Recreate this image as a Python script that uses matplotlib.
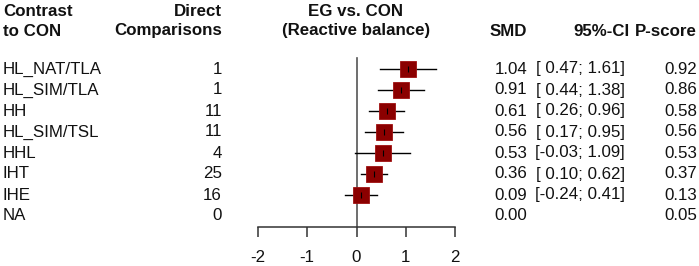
import matplotlib
matplotlib.use("Agg")
import matplotlib.pyplot as plt
import matplotlib.transforms as mtransforms

plt.rcParams['font.family'] = ['Liberation Sans', 'DejaVu Sans']

# data
contrasts = ["HL_NAT/TLA", "HL_SIM/TLA", "HH", "HL_SIM/TSL", "HHL", "IHT", "IHE", "NA"]
n_direct = [1, 1, 11, 11, 4, 25, 16, 0]
smd = [1.04, 0.91, 0.61, 0.56, 0.53, 0.36, 0.09, 0.00]
ci_low = [0.47, 0.44, 0.26, 0.17, -0.03, 0.10, -0.24, None]
ci_high = [1.61, 1.38, 0.96, 0.95, 1.09, 0.62, 0.41, None]
pscore = [0.92, 0.86, 0.58, 0.56, 0.53, 0.37, 0.13, 0.05]
xticks = [-2, -1, 0, 1, 2]

W, H = 699, 266
fig = plt.figure(figsize=(W / 100, H / 100), dpi=100)

# forest axes: x from -2 (px 258) to 2 (px 455), bottom spine at px 227
ax = fig.add_axes([258 / W, (H - 227) / H, 197 / W, 227 / H])
row0, step = 69, 21
ax.set_xlim(-2, 2)
ax.set_ylim((227 - row0) / step, -row0 / step)

fs = 12.2
col = "#111111"

# reference line at zero
ax.plot([0, 0], [-0.52, (227 - row0) / step], color="#555555", lw=1.2, clip_on=False)

for i, m in enumerate(smd):
    lo, hi = ci_low[i], ci_high[i]
    if lo is None:
        continue
    ax.plot([lo, hi], [i, i], color="black", lw=1.0, zorder=2)
    ax.plot(m, i, marker="s", ms=11.2, color="#8b0000", mec="#a01010", mew=0.6, zorder=3)
    ax.plot(m, i, marker="|", ms=5, color="black", mew=0.8, zorder=4)

for s in ["top", "left", "right"]:
    ax.spines[s].set_visible(False)
ax.spines["bottom"].set_bounds(-2, 2)
ax.spines["bottom"].set_color("#333333")
ax.spines["bottom"].set_linewidth(1.1)
ax.set_yticks([])
ax.set_xticks(xticks)
ax.set_xticklabels([str(t) for t in xticks])
ax.tick_params(axis="x", length=7.5, width=1.1, color="#333333", pad=9,
               labelsize=fs, labelcolor=col)
ax.patch.set_visible(False)

# text columns: x in figure pixels, y in row units
tr = mtransforms.blended_transform_factory(fig.transFigure, ax.transData)

def put(xpx, y, s, ha, bold=False):
    ax.text(xpx / W, y, s, transform=tr, ha=ha, va="center", fontsize=fs,
            color=col, fontweight="bold" if bold else "normal", clip_on=False)

h1 = (11 - row0) / step
h2 = (31 - row0) / step
put(3, h1, "Contrast", "left", True)
put(3, h2, "to CON", "left", True)
put(222, h1, "Direct", "right", True)
put(222, h2, "Comparisons", "right", True)
put(356, h1, "EG vs. CON", "center", True)
put(356, h2, "(Reactive balance)", "center", True)
put(527, h2, "SMD", "right", True)
put(630, h2, "95%-CI", "right", True)
put(697, h2, "P-score", "right", True)

for i, name in enumerate(contrasts):
    put(3, i, name, "left")
    put(222, i, str(n_direct[i]), "right")
    put(527, i, f"{smd[i]:.2f}", "right")
    if ci_low[i] is not None:
        lo = f"{ci_low[i]:.2f}"
        if ci_low[i] >= 0:
            lo = " " + lo
        put(625, i, f"[{lo}; {ci_high[i]:.2f}]", "right")
    put(697, i, f"{pscore[i]:.2f}", "right")

fig.savefig("out.png", dpi=100)
